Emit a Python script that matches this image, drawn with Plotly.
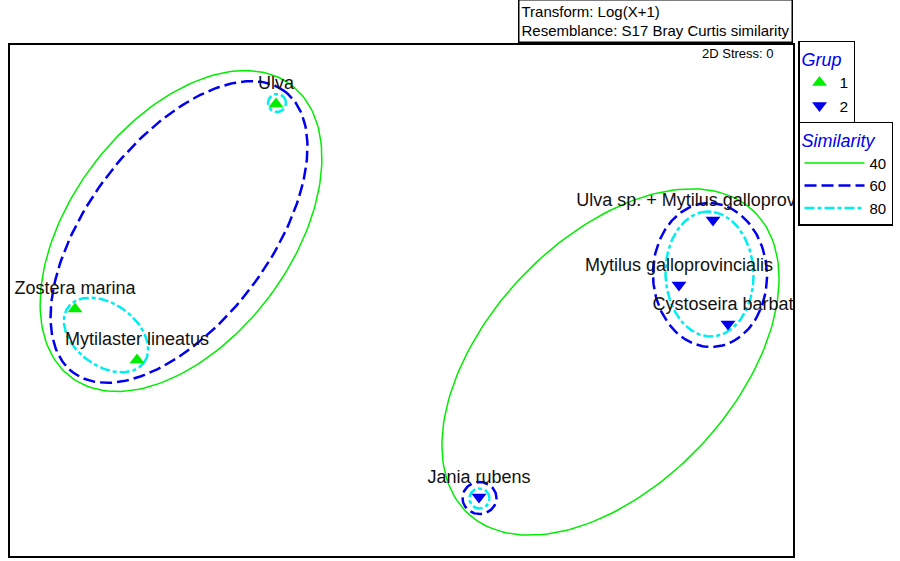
import numpy as np
import plotly.graph_objects as go

# ---- data (MDS ordination coordinates) ----
g1_names = ["Ulva", "Zostera marina", "Mytilaster lineatus"]
g1_x = [-1.25, -3.26, -2.64]
g1_y = [1.96, -0.09, -0.60]

g2_names = ["Ulva sp. + Mytilus galloprovincialis", "Mytilus galloprovincialis",
            "Cystoseira barbata", "Jania rubens"]
g2_x = [3.12, 2.78, 3.27, 0.78]
g2_y = [0.80, 0.15, -0.24, -1.97]

# similarity contours: centre x, centre y, semi-axis a, semi-axis b, rotation (deg)
sim40_cx = [-2.20, 2.095]
sim40_cy = [0.69, -0.62]
sim40_a = [1.83, 2.08]
sim40_b = [1.10, 1.23]
sim40_rot = [53, 46.6]

sim60_cx = [-2.22, 3.09, 0.785]
sim60_cy = [0.68, 0.25, -1.98]
sim60_a = [1.76, 0.72, 0.17]
sim60_b = [0.91, 0.57, 0.16]
sim60_rot = [53, 92, 0]

sim80_cx = [-2.95, 3.085, -1.24, 0.785]
sim80_cy = [-0.35, 0.26, 1.97, -1.985]
sim80_a = [0.47, 0.625, 0.09, 0.10]
sim80_b = [0.31, 0.44, 0.09, 0.10]
sim80_rot = [-36, 92, 0, 0]

FONT = "Arial, Liberation Sans, sans-serif"


def contour(cx, cy, a, b, rot, n=181):
    xs, ys = [], []
    t = np.linspace(0, 2 * np.pi, n)
    for x0, y0, aa, bb, r in zip(cx, cy, a, b, rot):
        th = np.deg2rad(r)
        ex = x0 + aa * np.cos(t) * np.cos(th) - bb * np.sin(t) * np.sin(th)
        ey = y0 + aa * np.cos(t) * np.sin(th) + bb * np.sin(t) * np.cos(th)
        xs += list(ex) + [None]
        ys += list(ey) + [None]
    return xs, ys


fig = go.Figure()

x40, y40 = contour(sim40_cx, sim40_cy, sim40_a, sim40_b, sim40_rot)
x60, y60 = contour(sim60_cx, sim60_cy, sim60_a, sim60_b, sim60_rot)
x80, y80 = contour(sim80_cx, sim80_cy, sim80_a, sim80_b, sim80_rot)

fig.add_trace(go.Scatter(x=x40, y=y40, mode="lines", name="40", legend="legend2",
                         line=dict(color="#00ee00", width=1.5), hoverinfo="skip"))
fig.add_trace(go.Scatter(x=x60, y=y60, mode="lines", name="60", legend="legend2",
                         line=dict(color="#0000ee", width=2.5, dash="12px,5px"), hoverinfo="skip"))
fig.add_trace(go.Scatter(x=x80, y=y80, mode="lines", name="80", legend="legend2",
                         line=dict(color="#00eeee", width=2.5, dash="10px,3px,4px,3px"), hoverinfo="skip"))

fig.add_trace(go.Scatter(x=g1_x, y=g1_y, mode="markers", name="1", legend="legend",
                         marker=dict(symbol="triangle-up", size=13, color="#00ee00")))
fig.add_trace(go.Scatter(x=g2_x, y=g2_y, mode="markers", name="2", legend="legend",
                         marker=dict(symbol="triangle-down", size=13, color="#0000ee")))

# labels
fig.add_trace(go.Scatter(x=g1_x, y=g1_y, mode="markers+text", text=g1_names,
                         textposition="top center", showlegend=False, hoverinfo="skip",
                         marker=dict(size=14.5, opacity=0),
                         textfont=dict(family=FONT, size=18, color="#111111")))
fig.add_trace(go.Scatter(x=g2_x, y=g2_y, mode="markers+text", text=g2_names,
                         textposition="top center", showlegend=False, hoverinfo="skip",
                         marker=dict(size=13.5, opacity=0),
                         textfont=dict(family=FONT, size=18, color="#111111")))

fig.update_xaxes(range=[-3.91, 3.92], showgrid=False, zeroline=False, showticklabels=False,
                 ticks="", showline=True, mirror=True, linecolor="black", linewidth=1.5)
fig.update_yaxes(range=[-2.56, 2.55], showgrid=False, zeroline=False, showticklabels=False,
                 ticks="", showline=True, mirror=True, linecolor="black", linewidth=1.5)

fig.update_layout(
    width=900, height=561,
    margin=dict(l=10, r=107, t=45, b=5),
    paper_bgcolor="white", plot_bgcolor="white",
    font=dict(family=FONT, color="black"),
    legend=dict(x=1.0064, y=1.008, xanchor="left", yanchor="top",
                bordercolor="black", borderwidth=1.5, bgcolor="white",
                title=dict(text="<i>Grup</i>", font=dict(family=FONT, size=18, color="#0000ee")),
                font=dict(family=FONT, size=15.5, color="black"), itemwidth=30,
                tracegroupgap=0),
    legend2=dict(x=1.0064, y=0.8494, xanchor="left", yanchor="top",
                 bordercolor="black", borderwidth=1.5, bgcolor="white",
                 title=dict(text="<i>Similarity</i>", font=dict(family=FONT, size=18, color="#0000ee")),
                 font=dict(family=FONT, size=15, color="black"), itemwidth=60,
                 tracegroupgap=0),
    annotations=[
        dict(xref="paper", yref="paper", x=1.0, y=1.0039, xanchor="right", yanchor="bottom",
             text="Transform: Log(X+1)<br>Resemblance: S17 Bray Curtis similarity",
             align="left", showarrow=False, font=dict(family=FONT, size=15, color="black"),
             bordercolor="black", borderwidth=1.5, borderpad=2, bgcolor="white"),
        dict(xref="paper", yref="paper", x=0.9783, y=0.9834, xanchor="right", yanchor="middle",
             text="2D Stress: 0", showarrow=False, font=dict(family=FONT, size=13, color="black")),
    ],
)

fig.write_html("out.html", config={"displayModeBar": False},
               post_script="document.body.style.margin='0';document.body.style.padding='0';"
                           "window.dispatchEvent(new Event('resize'));")
